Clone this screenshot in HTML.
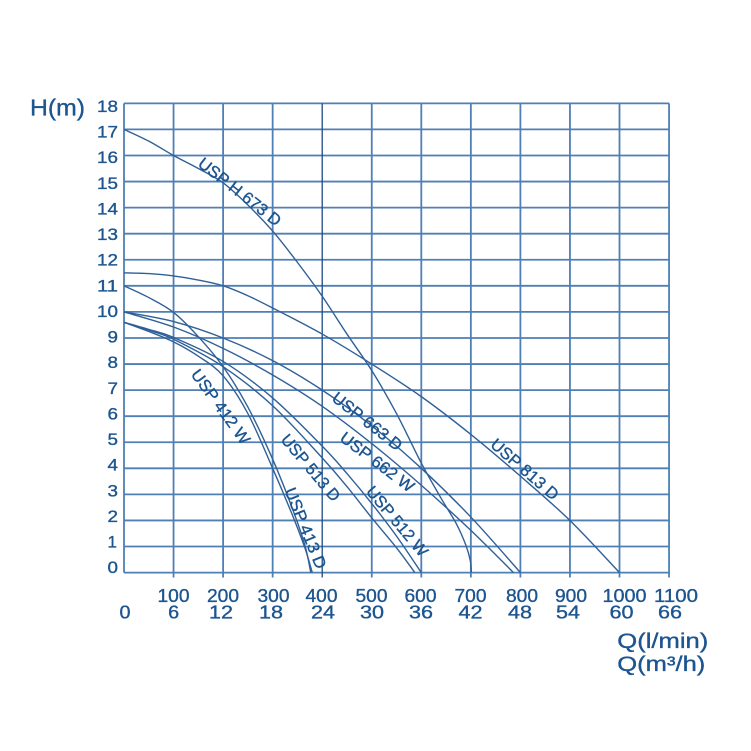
<!DOCTYPE html>
<html><head><meta charset="utf-8"><style>
html,body{margin:0;padding:0;background:#fff;}
svg{display:block;}
text{font-family:"Liberation Sans",Arial,sans-serif;fill:#1c5590;stroke:#1c5590;stroke-width:0.35;}
</style></head><body>
<svg width="751" height="751" viewBox="0 0 751 751" xmlns="http://www.w3.org/2000/svg">
<rect width="751" height="751" fill="#fff"/>
<!-- grid -->
<path fill="none" stroke="#4f7fb5" stroke-width="1.8" d="
M124 572.6H669.05 M124 546.53H669.05 M124 520.46H669.05 M124 494.39H669.05 M124 468.32H669.05
M124 442.25H669.05 M124 416.18H669.05 M124 390.11H669.05 M124 364.04H669.05 M124 337.97H669.05
M124 311.9H669.05 M124 285.83H669.05 M124 259.76H669.05 M124 233.69H669.05 M124 207.62H669.05
M124 181.55H669.05 M124 155.48H669.05 M124 129.41H669.05 M124 103.34H669.05
M124 103.34V572.6 M173.55 103.34V577.5 M223.1 103.34V577.5 M272.65 103.34V577.5
M371.75 103.34V577.5 M421.3 103.34V577.5 M470.85 103.34V577.5 M520.4 103.34V577.5
M569.95 103.34V577.5 M619.5 103.34V577.5 M669.05 103.34V577.5"/>
<path fill="none" stroke="#1d4a80" stroke-width="1.3" d="M322.2 103.34V577.5"/>

<!-- curves in data coordinates -->
<g transform="translate(124,572.6) scale(0.4955,-26.07)" fill="none" stroke="#2f6098" stroke-width="1.4" stroke-linejoin="round">
<polyline class="c" vector-effect="non-scaling-stroke" points="0,17 50,16.55 100,16 150,15.5 200,14.95 250,14.1 300,13.1 350,11.9 400,10.6 450,9.15 500,7.75 550,6.1 600,4.2 640,2.85 670,1.9 690,1.05 699,0.45 701,0"/>
<polyline class="c" vector-effect="non-scaling-stroke" points="0,11.5 50,11.47 100,11.38 150,11.22 200,11 250,10.62 300,10.15 400,9.15 500,8 600,6.75 700,5.3 800,3.7 900,2 1000,0"/>
<polyline class="c" vector-effect="non-scaling-stroke" points="0,11 50,10.55 100,9.98 150,9.05 200,7.9 250,6.35 300,4.35 340,2.45 365,1.05 377,0"/>
<polyline class="c" vector-effect="non-scaling-stroke" points="0,9.6 50,9.25 100,8.85 150,8.3 200,7.55 250,6.1 300,4 340,2.2 365,0.95 380,0"/>
<polyline class="c" vector-effect="non-scaling-stroke" points="0,9.6 50,9.3 100,8.95 200,7.9 300,6.4 400,4.4 450,3.3 500,2.1 550,0.95 587,0"/>
<polyline class="c" vector-effect="non-scaling-stroke" points="0,9.6 50,9.33 100,9.02 200,8.1 300,6.7 400,4.85 450,3.8 500,2.65 550,1.4 600,0"/>
<polyline class="c" vector-effect="non-scaling-stroke" points="0,10 100,9.63 200,9 300,8.13 400,7 500,5.63 600,4 700,2.13 800,0"/>
<polyline class="c" vector-effect="non-scaling-stroke" points="0,10 100,9.42 200,8.6 300,7.58 400,6.38 500,4.95 600,3.35 700,1.62 786,0"/>
</g>

<!-- axis titles -->
<text x="30" y="115.7" font-size="23" textLength="55" lengthAdjust="spacingAndGlyphs">H(m)</text>
<text x="617.3" y="648" font-size="21" textLength="91" lengthAdjust="spacingAndGlyphs">Q(l/min)</text>
<text x="617.3" y="671" font-size="21" textLength="88" lengthAdjust="spacingAndGlyphs">Q(m³/h)</text>

<!-- y tick labels -->
<g font-size="17" text-anchor="end">
<text x="118" y="112" textLength="21" lengthAdjust="spacingAndGlyphs">18</text>
<text x="118" y="137.62" textLength="21" lengthAdjust="spacingAndGlyphs">17</text>
<text x="118" y="163.24" textLength="21" lengthAdjust="spacingAndGlyphs">16</text>
<text x="118" y="188.86" textLength="21" lengthAdjust="spacingAndGlyphs">15</text>
<text x="118" y="214.48" textLength="21" lengthAdjust="spacingAndGlyphs">14</text>
<text x="118" y="240.1" textLength="21" lengthAdjust="spacingAndGlyphs">13</text>
<text x="118" y="265.72" textLength="21" lengthAdjust="spacingAndGlyphs">12</text>
<text x="118" y="291.34" textLength="21" lengthAdjust="spacingAndGlyphs">11</text>
<text x="118" y="316.96" textLength="21" lengthAdjust="spacingAndGlyphs">10</text>
<text x="118" y="342.58" textLength="10.5" lengthAdjust="spacingAndGlyphs">9</text>
<text x="118" y="368.2" textLength="10.5" lengthAdjust="spacingAndGlyphs">8</text>
<text x="118" y="393.82" textLength="10.5" lengthAdjust="spacingAndGlyphs">7</text>
<text x="118" y="419.44" textLength="10.5" lengthAdjust="spacingAndGlyphs">6</text>
<text x="118" y="445.06" textLength="10.5" lengthAdjust="spacingAndGlyphs">5</text>
<text x="118" y="470.68" textLength="10.5" lengthAdjust="spacingAndGlyphs">4</text>
<text x="118" y="496.3" textLength="10.5" lengthAdjust="spacingAndGlyphs">3</text>
<text x="118" y="521.92" textLength="10.5" lengthAdjust="spacingAndGlyphs">2</text>
<text x="117" y="547.54">1</text>
<text x="118" y="573.16" textLength="10.5" lengthAdjust="spacingAndGlyphs">0</text>
</g>

<!-- x tick labels -->
<g font-size="18.5" text-anchor="middle">
<text x="173.5" y="602" textLength="32" lengthAdjust="spacingAndGlyphs">100</text>
<text x="223" y="602" textLength="32" lengthAdjust="spacingAndGlyphs">200</text>
<text x="273.5" y="602" textLength="32" lengthAdjust="spacingAndGlyphs">300</text>
<text x="321.5" y="602" textLength="32" lengthAdjust="spacingAndGlyphs">400</text>
<text x="371.5" y="602" textLength="32" lengthAdjust="spacingAndGlyphs">500</text>
<text x="420.5" y="602" textLength="32" lengthAdjust="spacingAndGlyphs">600</text>
<text x="470.5" y="602" textLength="32" lengthAdjust="spacingAndGlyphs">700</text>
<text x="522" y="602" textLength="32" lengthAdjust="spacingAndGlyphs">800</text>
<text x="571" y="602" textLength="32" lengthAdjust="spacingAndGlyphs">900</text>
<text x="624.5" y="602" textLength="44" lengthAdjust="spacingAndGlyphs">1000</text>
<text x="676" y="602" textLength="44" lengthAdjust="spacingAndGlyphs">1100</text>

<text x="125" y="618.5" textLength="11" lengthAdjust="spacingAndGlyphs">0</text>
<text x="173.7" y="618.5" textLength="11" lengthAdjust="spacingAndGlyphs">6</text>
<text x="221" y="618.5" textLength="24" lengthAdjust="spacingAndGlyphs">12</text>
<text x="271" y="618.5" textLength="24" lengthAdjust="spacingAndGlyphs">18</text>
<text x="323" y="618.5" textLength="24" lengthAdjust="spacingAndGlyphs">24</text>
<text x="372" y="618.5" textLength="24" lengthAdjust="spacingAndGlyphs">30</text>
<text x="421" y="618.5" textLength="24" lengthAdjust="spacingAndGlyphs">36</text>
<text x="470.5" y="618.5" textLength="24" lengthAdjust="spacingAndGlyphs">42</text>
<text x="520" y="618.5" textLength="24" lengthAdjust="spacingAndGlyphs">48</text>
<text x="568" y="618.5" textLength="24" lengthAdjust="spacingAndGlyphs">54</text>
<text x="621.5" y="618.5" textLength="24" lengthAdjust="spacingAndGlyphs">60</text>
<text x="670" y="618.5" textLength="24" lengthAdjust="spacingAndGlyphs">66</text>
</g>

<!-- curve labels -->
<g font-size="16.5" text-anchor="middle">
<text transform="translate(240,191.5) rotate(38)" y="6" textLength="100" lengthAdjust="spacingAndGlyphs">USP H 673 D</text>
<text transform="translate(525,469) rotate(41)" y="6" textLength="84" lengthAdjust="spacingAndGlyphs">USP 813 D</text>
<text transform="translate(221,406.5) rotate(54)" y="6" textLength="88" lengthAdjust="spacingAndGlyphs">USP 412 W</text>
<text transform="translate(306,528) rotate(68)" y="6" textLength="86" lengthAdjust="spacingAndGlyphs">USP 413 D</text>
<text transform="translate(311,467.5) rotate(50)" y="6" textLength="82" lengthAdjust="spacingAndGlyphs">USP 513 D</text>
<text transform="translate(397.5,521) rotate(50)" y="6" textLength="86" lengthAdjust="spacingAndGlyphs">USP 512 W</text>
<text transform="translate(367.5,421) rotate(38)" y="6" textLength="84" lengthAdjust="spacingAndGlyphs">USP 663 D</text>
<text transform="translate(377.5,461.7) rotate(37)" y="6" textLength="88" lengthAdjust="spacingAndGlyphs">USP 662 W</text>
</g>
</svg>
<script>
(function(){
  var ns="http://www.w3.org/2000/svg";
  var pls=document.querySelectorAll("polyline.c");
  for(var k=0;k<pls.length;k++){
    var pl=pls[k];
    var raw=pl.getAttribute("points").trim().split(/\s+/).map(function(s){var a=s.split(",");return [parseFloat(a[0]),parseFloat(a[1])];});
    if(raw.length<3)continue;
    var d="M"+raw[0][0]+","+raw[0][1];
    for(var i=0;i<raw.length-1;i++){
      var p0=raw[i>0?i-1:i],p1=raw[i],p2=raw[i+1],p3=raw[i+2<raw.length?i+2:i+1];
      var c1x=p1[0]+(p2[0]-p0[0])/6,c1y=p1[1]+(p2[1]-p0[1])/6;
      var c2x=p2[0]-(p3[0]-p1[0])/6,c2y=p2[1]-(p3[1]-p1[1])/6;
      d+=" C"+c1x+","+c1y+" "+c2x+","+c2y+" "+p2[0]+","+p2[1];
    }
    var p=document.createElementNS(ns,"path");
    p.setAttribute("d",d);
    p.setAttribute("vector-effect","non-scaling-stroke");
    pl.parentNode.replaceChild(p,pl);
  }
})();
</script>
</body></html>
